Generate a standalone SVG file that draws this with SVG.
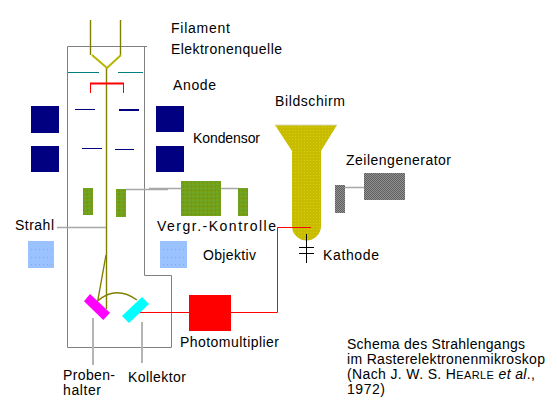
<svg xmlns="http://www.w3.org/2000/svg" width="557" height="413" viewBox="0 0 557 413">
<style>
text{font-family:"Liberation Sans",Arial,sans-serif;font-size:14px;fill:#000}
.wall{fill:none;stroke:#808080;stroke-width:1}
.lead{fill:none;stroke:#a8a8a8;stroke-width:1.5}
.leadw{fill:none;stroke:#b4b4b4;stroke-width:2}
.beam{fill:none;stroke:#808000;stroke-width:1.400}
.red{fill:none;stroke:#f00;stroke-width:1}
.navy{fill:#000080}
.green{fill:url(#g)}
.lb{fill:#99c2ff}
.dots{fill:none;stroke:#7da6f0;stroke-width:1;stroke-dasharray:1 3}
.grey{fill:url(#k)}
</style>
<defs>
<pattern id="g" width="4" height="4" patternUnits="userSpaceOnUse"><rect width="4" height="4" fill="#70a020"/><rect width="1" height="1" x="1" fill="#a89820"/><rect width="1" height="1" x="3" y="2" fill="#40a040"/><rect width="1" height="1" x="0" y="3" fill="#88a000"/></pattern>
<pattern id="k" width="2" height="2" patternUnits="userSpaceOnUse"><rect width="2" height="2" fill="#909090"/><rect width="1" height="1" fill="#606060"/><rect width="1" height="1" x="1" y="1" fill="#606060"/></pattern>
<pattern id="y" width="3" height="3" patternUnits="userSpaceOnUse"><rect width="3" height="3" fill="#c8bc00"/><rect width="1" height="1" x="1" y="1" fill="#d8cc10"/></pattern>
</defs>
<g id="connectors">
<path class="wall" d="M147 46.500H67.500V347.500H171.500V275.500H144.500V46.500"/>
<path class="beam" d="M90.500 20V55M120.500 20V55M106.500 68V309"/>
<path d="M92 55L107 68L121 55" fill="none" stroke="#b8b400" stroke-width="2"/>
<path class="beam" d="M106 255L97.500 302M97.500 301Q116 285 137 300"/>
<path class="lead" d="M57 227.500H106M126 189.500H168M149 188.500H181M221 188.500H238M345 187.500H364"/>
<path class="leadw" d="M93 318V365M142 322V363"/>
<path class="red" d="M140 312.500H189M231 312.500H277.500V227.500H311"/>
</g>
<g id="anode-plates"><path d="M68 72.500H99M118 72.500H143" stroke="#008080" fill="none"/></g>
<g id="anode"><path d="M90.500 93V83.500H123.500V93" fill="none" stroke="#f00"/><path d="M90 83.500H124" stroke="#f00" stroke-width="2"/></g>
<g id="kondensor">
<rect class="navy" x="31" y="106" width="28" height="27"/><rect class="navy" x="156" y="106" width="28" height="26"/>
<rect class="navy" x="31" y="146" width="28" height="26"/><rect class="navy" x="156" y="146" width="28" height="26"/>
<path d="M75 109.500H95M82 148.500H102M115 149.500H134" stroke="#000080" fill="none"/><path d="M119 110H139" stroke="#000080" stroke-width="2" fill="none"/>
</g>
<g id="vergr-kontrolle">
<rect class="green" x="83" y="188" width="10" height="27"/><rect class="green" x="116" y="189" width="10" height="28"/>
<rect class="green" x="181" y="181" width="40" height="35"/><rect class="green" x="238" y="188" width="10" height="28"/>
</g>
<g id="objektiv"><rect class="lb" x="28" y="241" width="26" height="27"/><rect class="lb" x="160" y="241" width="27" height="27"/>
<path class="dots" d="M31 249.500H52M31 257.500H52M31 264.500H52M163 249.500H185M163 257.500H185M163 264.500H185"/></g>
<g id="probenhalter"><polygon points="90,294 110,312.700 103.300,320 84,301.300" fill="#f0f"/></g>
<g id="kollektor"><polygon points="142,297 149,304 129,323 122,316" fill="#0ff"/></g>
<g id="photomultiplier"><rect x="189" y="295" width="42" height="36" fill="#f00"/></g>
<g id="bildschirm">
<path d="M275 125H337L321 151V226A14.500 14.500 0 0 1 292 226V151Z" fill="url(#y)"/>
<path d="M275 125H337" stroke="#d8d8c0" fill="none"/>
<path d="M277.500 227.500H311" class="red"/>
</g>
<g id="kathode"><path d="M306.500 234V263M299 247.500H314M299 253.500H314" stroke="#000" fill="none"/></g>
<g id="zeilengenerator"><rect class="grey" x="335" y="185" width="10" height="28"/><rect class="grey" x="364" y="173" width="41" height="27"/></g>
<g id="labels">
<text x="171" y="33" textLength="59" lengthAdjust="spacing">Filament</text>
<text x="171" y="54" textLength="111" lengthAdjust="spacing">Elektronenquelle</text>
<text x="173" y="90" textLength="43" lengthAdjust="spacing">Anode</text>
<text x="275" y="106" textLength="70" lengthAdjust="spacing">Bildschirm</text>
<text x="193" y="143" textLength="67" lengthAdjust="spacing">Kondensor</text>
<text x="346" y="165" textLength="105" lengthAdjust="spacing">Zeilengenerator</text>
<text x="15" y="230" textLength="39" lengthAdjust="spacing">Strahl</text>
<text x="157" y="231" textLength="119" lengthAdjust="spacing">Vergr.-Kontrolle</text>
<text x="203" y="260" textLength="53" lengthAdjust="spacing">Objektiv</text>
<text x="323" y="260" textLength="56" lengthAdjust="spacing">Kathode</text>
<text x="180" y="347" textLength="99" lengthAdjust="spacing">Photomultiplier</text>
<text x="63" y="380" textLength="52" lengthAdjust="spacing">Proben-</text>
<text x="63" y="395" textLength="38" lengthAdjust="spacing">halter</text>
<text x="128" y="382" textLength="58" lengthAdjust="spacing">Kollektor</text>
<text x="347" y="349" textLength="178" lengthAdjust="spacing">Schema des Strahlengangs</text>
<text x="347" y="364" textLength="198" lengthAdjust="spacing">im Rasterelektronenmikroskop</text>
<text x="347" y="379" textLength="188" lengthAdjust="spacing">(Nach J. W. S. H<tspan font-size="11">EARLE</tspan> <tspan font-style="italic">et al</tspan>.,</text>
<text x="347" y="394" textLength="38" lengthAdjust="spacing">1972)</text>
</g>
</svg>
